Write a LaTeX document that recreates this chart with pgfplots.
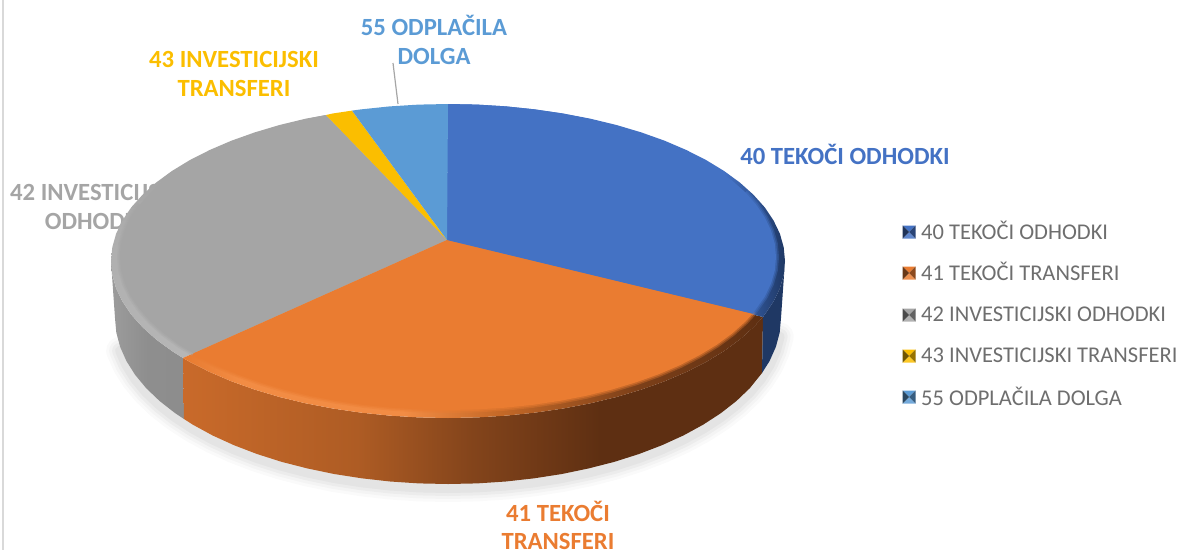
\documentclass[border=0pt]{standalone}
\usepackage{pgfplots}
\pgfplotsset{compat=1.18}
\usepackage{pgfplotstable}
\usepackage{fontspec}
\setmainfont{Carlito}
\definecolor{cBlue}{HTML}{4472C4}
\definecolor{cOrange}{HTML}{EA7C31}
\definecolor{cGray}{HTML}{A5A5A5}
\definecolor{cYellow}{HTML}{FBBE00}
\definecolor{cLight}{HTML}{5B9BD5}
\definecolor{cText}{HTML}{6E6E6E}
\definecolor{cNavy}{HTML}{1F3864}
\definecolor{oA}{HTML}{C96A2A}
\definecolor{oB}{HTML}{AE5C24}
\definecolor{oC}{HTML}{83441B}
\definecolor{oD}{HTML}{5E2F12}
\definecolor{oE}{HTML}{E87B30}
\definecolor{oF}{HTML}{F28C44}
\definecolor{oG}{HTML}{C76A28}
\definecolor{oH}{HTML}{7D4019}
\definecolor{gA}{HTML}{9C9C9C}
\definecolor{gB}{HTML}{8E8E8E}
\definecolor{gC}{HTML}{8C8C8C}
\definecolor{gD}{HTML}{B6B6B6}
\definecolor{gE}{HTML}{AEAEAE}
\definecolor{bA}{HTML}{2A4A84}
\pgfdeclarehorizontalshading{sideOrange}{100bp}{color(0bp)=(oA); color(25bp)=(oA);
 color(40bp)=(oB); color(50bp)=(oC); color(61bp)=(oD); color(100bp)=(oD)}
\pgfdeclarehorizontalshading{sideGray}{100bp}{color(0bp)=(gA); color(25bp)=(gA);
 color(50bp)=(gB); color(100bp)=(gC)}
\pgfdeclarehorizontalshading{bevelOrange}{100bp}{color(0bp)=(oE); color(25bp)=(oE);
 color(30bp)=(oF); color(44bp)=(oF); color(52bp)=(oG); color(64bp)=(oH); color(75bp)=(oD); color(100bp)=(oD)}
\pgfdeclareverticalshading{bevelGray}{100bp}{color(0bp)=(gD); color(25bp)=(gD);
 color(50bp)=(gE); color(62bp)=(cGray); color(100bp)=(cGray)}
\pgfdeclarehorizontalshading{bevelBlue}{100bp}{color(0bp)=(cBlue); color(25bp)=(cBlue);
 color(66bp)=(cBlue); color(72bp)=(bA); color(75bp)=(cNavy); color(100bp)=(cNavy)}
\newcommand{\tri}[7]{\pgfpathmoveto{\pgfqpoint{#2pt}{#3pt}}\pgfpathlineto{\pgfqpoint{#4pt}{#5pt}}\pgfpathlineto{\pgfqpoint{#6pt}{#7pt}}\pgfpathclose\pgfsetfillcolor{#1}\pgfusepathqfill}
\newcommand{\pyrmark}[5]{\pgfdeclareplotmark{#1}{%
 \tri{#2}{-6.5}{6.5}{6.5}{6.5}{0}{0}\tri{#3}{-6.5}{-6.5}{6.5}{-6.5}{0}{0}%
 \tri{#4}{-6.5}{-6.5}{-6.5}{6.5}{0}{0}\tri{#5}{6.5}{-6.5}{6.5}{6.5}{0}{0}}}
\pyrmark{pyrA}{cBlue}{cBlue!85!white}{cBlue!45!black}{cBlue!60!black}
\pyrmark{pyrB}{cOrange}{cOrange!85!white}{cOrange!45!black}{cOrange!60!black}
\pyrmark{pyrC}{cGray}{cGray!85!white}{cGray!45!black}{cGray!60!black}
\pyrmark{pyrD}{cYellow}{cYellow!85!white}{cYellow!45!black}{cYellow!60!black}
\pyrmark{pyrE}{cLight}{cLight!85!white}{cLight!45!black}{cLight!60!black}
% ---- outer rim wedges (top face)
\pgfplotstableread{
x y
447 240
448 104
477.4 104.6
506.5 106.4
535.2 109.4
563.3 113.5
590.4 118.7
616.5 125.0
641.3 132.4
664.6 140.7
686.3 150.0
706.2 160.1
724.1 171.0
739.8 182.5
753.4 194.7
764.7 207.3
773.5 220.4
779.9 233.7
783.7 247.3
785 261
783.7 274.7
779.9 288.3
773.5 301.6
763 317
}\outBlue
\pgfplotstableread{
x y
447 240
763 317
753.4 327.3
739.8 339.5
724.1 351
706.2 361.9
686.3 372
664.6 381.3
641.3 389.6
616.5 397
590.4 403.3
563.3 408.5
535.2 412.6
506.5 415.6
477.4 417.4
448 418
418.6 417.4
389.5 415.6
360.8 412.6
332.7 408.5
305.6 403.3
279.5 397
254.7 389.6
231.4 381.3
209.7 372
189.8 361.9
183 358
}\outOrange
\pgfplotstableread{
x y
447 240
183 358
171.9 351
156.2 339.5
142.6 327.3
131.3 314.7
122.5 301.6
116.1 288.3
112.3 274.7
111 261
112.3 247.3
116.1 233.7
122.5 220.4
131.3 207.3
142.6 194.7
156.2 182.5
171.9 171
189.8 160.1
209.7 150
231.4 140.7
254.7 132.4
279.5 125
305.6 118.7
326 115
}\outGray
\pgfplotstableread{
x y
447 240
326 115
332.7 113.5
352 110.6
}\wedgeYellow
\pgfplotstableread{
x y
447 240
352 110.6
360.8 109.4
389.5 106.4
418.6 104.6
448 104
}\wedgeLight
% ---- inner flat wedges
\pgfplotstableread{
x y
447 240
448 104
476.6 104.6
504.9 106.3
532.9 109.2
560.2 113.2
586.6 118.3
612 124.5
636.1 131.7
658.8 139.8
679.9 148.8
699.3 158.7
716.7 169.2
732.1 180.5
745.3 192.3
756.2 204.7
764.8 217.4
771 230.4
774.8 243.7
776 257
774.8 270.3
771 283.6
764.8 296.6
752.6 313.7
}\inBlue
\pgfplotstableread{
x y
745.3 192.3
756.2 204.7
764.8 217.4
771 230.4
774.8 243.7
776 257
774.8 270.3
771 283.6
764.8 296.6
752.6 313.7
}\softBlue
\pgfplotstableread{
x y
447 240
752.6 313.7
745.3 321.7
732.1 333.5
716.7 344.8
699.3 355.3
679.9 365.2
658.8 374.2
636.1 382.3
612 389.5
586.6 395.7
560.2 400.8
532.9 404.8
504.9 407.7
476.6 409.4
448 410
419.4 409.4
391.1 407.7
363.1 404.8
335.8 400.8
309.4 395.7
284 389.5
259.9 382.3
237.2 374.2
216.1 365.2
196.7 355.3
193.6 353.3
}\inOrange
\pgfplotstableread{
x y
447 240
193.6 353.3
179.3 344.8
163.9 333.5
150.7 321.7
139.8 309.3
131.2 296.6
125 283.6
121.2 270.3
120 257
121.2 243.7
125 230.4
131.2 217.4
139.8 204.7
150.7 192.3
163.9 180.5
179.3 169.2
196.7 158.7
216.1 148.8
237.2 139.8
259.9 131.7
284 124.5
309.4 118.3
326 115
}\inGray
\pgfplotstableread{
x y
193.6 353.3
179.3 344.8
163.9 333.5
150.7 321.7
139.8 309.3
131.2 296.6
125 283.6
121.2 270.3
120 257
121.2 243.7
125 230.4
131.2 217.4
139.8 204.7
}\softGray
% ---- side walls
\pgfplotstableread{
x y
111 261
112.3 274.7
116.1 288.3
122.5 301.6
131.3 314.7
142.6 327.3
156.2 339.5
171.9 351
183 358
184 419
175.2 413.2
159.6 401
146.2 388.2
135.1 374.8
126.4 361
120.1 346.8
116.3 332.5
115 318
}\sideGrayT
\pgfplotstableread{
x y
183 358
189.8 361.9
209.7 372
231.4 381.3
254.7 389.6
279.5 397
305.6 403.3
332.7 408.5
360.8 412.6
389.5 415.6
418.6 417.4
448 418
477.4 417.4
506.5 415.6
535.2 412.6
563.3 408.5
590.4 403.3
616.5 397
641.3 389.6
664.6 381.3
686.3 372
706.2 361.9
724.1 351
739.8 339.5
753.4 327.3
763 317
762 373
749.8 388.2
736.4 401
720.8 413.2
703.1 424.7
683.5 435.4
662 445.2
639 454
614.5 461.8
588.7 468.4
561.9 474
534.2 478.3
505.8 481.5
477 483.4
448 484
419 483.4
390.2 481.5
361.8 478.3
334.1 474
307.3 468.4
281.5 461.8
257 454
234 445.2
212.5 435.4
192.9 424.7
184 419
}\sideOrangeT
\pgfplotstableread{
x y
763 317
773.5 301.6
779.9 288.3
783.7 274.7
785 261
781 318
779.7 332.5
775.9 346.8
769.6 361
762 373
}\sideBlueT
% ---- bottom silhouette
\pgfplotstableread{
x y
120.1 346.8
126.4 361
135.1 374.8
146.2 388.2
159.6 401
175.2 413.2
192.9 424.7
212.5 435.4
234 445.2
257 454
281.5 461.8
307.3 468.4
334.1 474
361.8 478.3
390.2 481.5
419 483.4
448 484
477 483.4
505.8 481.5
534.2 478.3
561.9 474
588.7 468.4
614.5 461.8
639 454
662 445.2
683.5 435.4
703.1 424.7
720.8 413.2
736.4 401
749.8 388.2
760.9 374.8
769.6 361
775.9 346.8
779.7 332.5
}\botArc
\begin{document}
\begin{tikzpicture}[x=1pt,y=1pt]
\path[use as bounding box,clip] (0,0) rectangle (1181pt,550pt);
\begin{axis}[at={(0,0)},anchor=south west,scale only axis,width=1181pt,height=550pt,
 xmin=0,xmax=1181,ymin=0,ymax=550,y dir=reverse,hide axis,clip=false,
 every axis plot/.append style={forget plot,line join=round}]
% border
\addplot[draw=black!15,line width=2pt] coordinates {(3,0) (3,550)};
% label hidden behind the pie
\node[text=cGray,align=center,font=\bfseries\fontsize{24.7}{29}\selectfont,anchor=center] at (axis cs:95,206.5) {42 INVESTICIJSKI\\ODHODKI};
% shadow
\addplot[draw=black,opacity=.018,line width=28pt,line cap=round,yshift=-4pt] table {\botArc};
\addplot[draw=black,opacity=.025,line width=22pt,line cap=round,yshift=-4pt] table {\botArc};
\addplot[draw=black,opacity=.03,line width=16pt,line cap=round,yshift=-4pt] table {\botArc};
\addplot[draw=black,opacity=.035,line width=10pt,line cap=round,yshift=-4pt] table {\botArc};
% sides
\addplot[draw=none,shading=sideGray] table {\sideGrayT} -- cycle;
\addplot[draw=none,shading=sideOrange] table {\sideOrangeT} -- cycle;
\addplot[draw=none,fill=cNavy] table {\sideBlueT} -- cycle;
% bevels
\addplot[draw=none,shading=bevelGray] table {\outGray} -- cycle;
\addplot[draw=none,shading=bevelOrange] table {\outOrange} -- cycle;
\addplot[draw=none,shading=bevelBlue] table {\outBlue} -- cycle;
% soft edges between bevel and flat
\addplot[draw=cGray,opacity=.35,line width=6pt] table {\softGray};
\addplot[draw=cOrange,opacity=.35,line width=6pt] table {\inOrange};
\addplot[draw=cBlue,opacity=.35,line width=6pt] table {\softBlue};
\addplot[draw=cGray,opacity=.5,line width=3pt] table {\softGray};
\addplot[draw=cOrange,opacity=.5,line width=3pt] table {\inOrange};
\addplot[draw=cBlue,opacity=.5,line width=3pt] table {\softBlue};
% flat top
\addplot[draw=none,fill=cGray] table {\inGray} -- cycle;
\addplot[draw=none,fill=cOrange] table {\inOrange} -- cycle;
\addplot[draw=none,fill=cBlue] table {\inBlue} -- cycle;
\addplot[draw=none,fill=cYellow] table {\wedgeYellow} -- cycle;
\addplot[draw=none,fill=cLight] table {\wedgeLight} -- cycle;
% leader
\addplot[draw=black!35,line width=1.2pt] coordinates {(393,63) (398,104)};
% legend marks
\addplot[only marks,mark=pyrA] coordinates {(909,232)};
\addplot[only marks,mark=pyrB] coordinates {(909,273)};
\addplot[only marks,mark=pyrC] coordinates {(909,315)};
\addplot[only marks,mark=pyrD] coordinates {(909,356)};
\addplot[only marks,mark=pyrE] coordinates {(909,397)};
% data labels
\node[text=cBlue,font=\bfseries\fontsize{24.7}{29}\selectfont] at (axis cs:845,154.5) {40 TEKOČI ODHODKI};
\node[text=cOrange,align=center,font=\bfseries\fontsize{24.7}{28}\selectfont] at (axis cs:558,525) {41 TEKOČI\\TRANSFERI};
\node[text=cYellow,align=center,font=\bfseries\fontsize{24.7}{29}\selectfont] at (axis cs:234,73.5) {43 INVESTICIJSKI\\TRANSFERI};
\node[text=cLight,align=center,font=\bfseries\fontsize{24.7}{29}\selectfont] at (axis cs:434,39.5) {55 ODPLAČILA\\DOLGA};
% legend text
\node[text=cText,anchor=west,inner sep=0pt,font=\fontsize{22.5}{26}\selectfont] at (axis cs:921,230.5) {40 TEKOČI ODHODKI};
\node[text=cText,anchor=west,inner sep=0pt,font=\fontsize{22.5}{26}\selectfont] at (axis cs:921,271.5) {41 TEKOČI TRANSFERI};
\node[text=cText,anchor=west,inner sep=0pt,font=\fontsize{22.5}{26}\selectfont] at (axis cs:921,314) {42 INVESTICIJSKI ODHODKI};
\node[text=cText,anchor=west,inner sep=0pt,font=\fontsize{22.5}{26}\selectfont] at (axis cs:921,355) {43 INVESTICIJSKI TRANSFERI};
\node[text=cText,anchor=west,inner sep=0pt,font=\fontsize{22.5}{26}\selectfont] at (axis cs:921,396) {55 ODPLAČILA DOLGA};
\end{axis}
\end{tikzpicture}
\end{document}
